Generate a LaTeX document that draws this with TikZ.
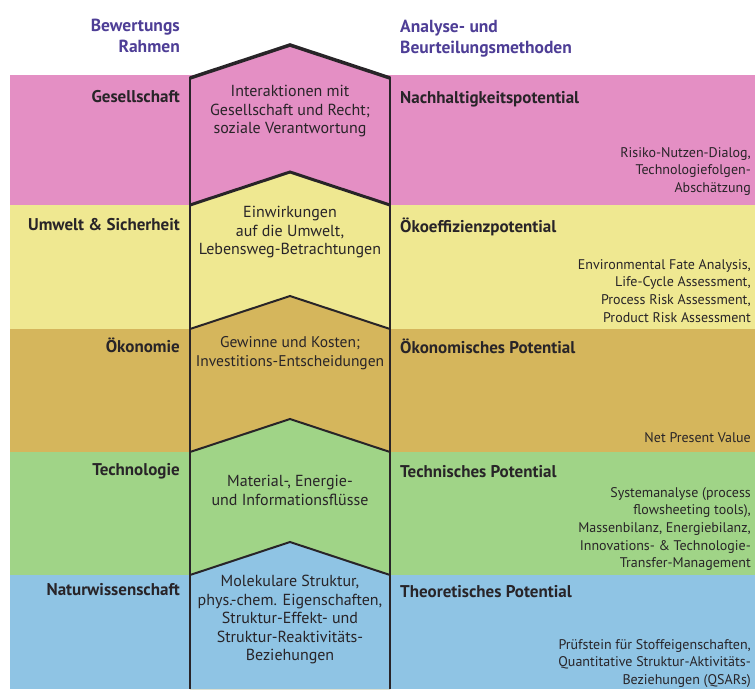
\documentclass[tikz,border=0pt]{standalone}
\usepackage{fontspec}
\setmainfont{PT Sans}
\usepackage{xcolor}
\definecolor{rosa}{RGB}{228,143,196}
\definecolor{gelb}{RGB}{239,232,145}
\definecolor{ocker}{RGB}{213,182,92}
\definecolor{gruen}{RGB}{160,212,135}
\definecolor{blau}{RGB}{143,196,228}
\definecolor{lila}{RGB}{78,62,150}
\definecolor{tinte}{RGB}{40,36,40}
\tikzset{
	kopf/.style={text=lila, font=\bfseries\fontsize{17.5}{21}\selectfont, inner sep=0pt},
	rahmen/.style={anchor=base east, text=tinte, font=\bfseries\fontsize{17}{20}\selectfont, inner sep=0pt},
	potential/.style={anchor=base west, text=tinte, font=\bfseries\fontsize{17}{20}\selectfont, inner sep=0pt},
	mitte/.style={anchor=north, align=center, text=tinte, font=\fontsize{16}{18.5}\selectfont, inner sep=0pt},
	methode/.style={anchor=north east, align=right, text=tinte, font=\fontsize{14}{17.7}\selectfont, inner sep=0pt},
	dach/.style={line width=2pt, line join=miter, draw=tinte}
}

\begin{document}
\begin{tikzpicture}[x=1pt,y=-1pt]
	\useasboundingbox (0,0) rectangle (755,689);
	% Baender
	\foreach \o/\u/\f in {75/205/rosa,205/329/gelb,329/452/ocker,452/575/gruen,575/689/blau}
		\fill[\f] (10,\o) rectangle (755,\u);
	% mittlere Saeule
	\foreach \o/\f in {78/rosa,205/gelb,329/ocker,452/gruen,575/blau}
		\fill[\f] (190,\o) -- (290,\o-33) -- (390,\o) -- (390,689) -- (190,689) -- cycle;
	\draw[dach, line width=3.5pt] (190,78) -- (290,45) -- (390,78);
	\draw[dach, line width=3pt] (190,205) -- (290,172) -- (390,205);
	\foreach \o in {329,452,575}
		\draw[dach] (190,\o) -- (290,\o-33) -- (390,\o);
	\draw[dach] (190,77) -- (190,689);
	\draw[dach] (390,77) -- (390,689);

	% Ueberschriften
	\node[kopf, anchor=north east, align=right] (bewertung) at (180,19) {Bewertungs\\Rahmen};
	\node[kopf, anchor=north west, align=left] (analyse) at (400,20) {Analyse- und\\Beurteilungsmethoden};

	% Bewertungsrahmen
	\node[rahmen] (ges) at (180,102) {Gesellschaft};
	\node[rahmen] (umw) at (180,230) {Umwelt \& Sicherheit};
	\node[rahmen] (oek) at (180,352) {Ökonomie};
	\node[rahmen] (tec) at (180,475) {Technologie};
	\node[rahmen] (nat) at (180,595) {Naturwissenschaft};

	% Saeule
	\node[mitte] (ges-m) at (290,85) {Interaktionen mit\\Gesellschaft und Recht;\\soziale Verantwortung};
	\node[mitte] (umw-m) at (290,206) {Einwirkungen\\auf die Umwelt,\\Lebensweg-Betrachtungen};
	\node[mitte, font=\fontsize{15.5}{19.5}\selectfont] (oek-m) at (290,336) {Gewinne und Kosten;\\Investitions-Entscheidungen};
	\node[mitte] (tec-m) at (290,475) {Material-, Energie-\\und Informationsflüsse};
	\node[mitte] (nat-m) at (290,575) {Molekulare Struktur,\\phys.-chem. Eigenschaften,\\Struktur-Effekt- und\\Struktur-Reaktivitäts-\\Beziehungen};

	% Potentiale
	\node[potential] (ges-p) at (400,103) {Nachhaltigkeitspotential};
	\node[potential] (umw-p) at (400,232) {Ökoeffizienzpotential};
	\node[potential] (oek-p) at (400,353) {Ökonomisches Potential};
	\node[potential] (tec-p) at (400,477) {Technisches Potential};
	\node[potential] (nat-p) at (400,597) {Theoretisches Potential};

	% Methoden
	\node[methode] (ges-a) at (751,147) {Risiko-Nutzen-Dialog,\\Technologiefolgen-\\Abschätzung};
	\node[methode] (umw-a) at (751,259) {Environmental Fate Analysis,\\Life-Cycle Assessment,\\Process Risk Assessment,\\Product Risk Assessment};
	\node[methode] (oek-a) at (751,432) {Net Present Value};
	\node[methode] (tec-a) at (751,487) {Systemanalyse (process\\flowsheeting tools),\\Massenbilanz, Energiebilanz,\\Innovations- \& Technologie-\\Transfer-Management};
	\node[methode] (nat-a) at (751,639) {Prüfstein für Stoffeigenschaften,\\Quantitative Struktur-Aktivitäts-\\Beziehungen (QSARs)};
\end{tikzpicture}
\end{document}
